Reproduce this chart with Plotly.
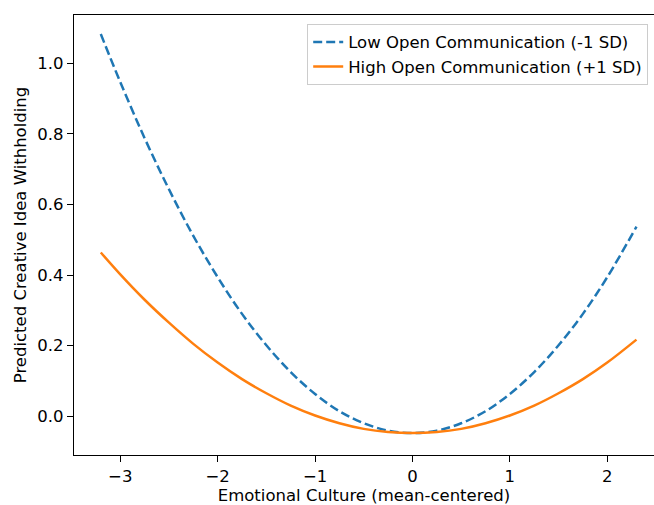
import plotly.graph_objects as go

# Emotional culture (mean-centered) sample points
x_vals = [-3.2, -3.0, -2.75, -2.5, -2.25, -2.0, -1.75, -1.5, -1.25, -1.0, -0.75, -0.5, -0.25,
          0.0, 0.25, 0.5, 0.75, 1.0, 1.25, 1.5, 1.75, 2.0, 2.3]
low_oc = [1.083, 0.947, 0.788, 0.643, 0.511, 0.394, 0.290, 0.201, 0.125, 0.063, 0.014, -0.020, -0.041,
          -0.048, -0.041, -0.020, 0.014, 0.063, 0.125, 0.201, 0.290, 0.394, 0.537]
high_oc = [0.464, 0.402, 0.330, 0.265, 0.205, 0.152, 0.105, 0.065, 0.030, 0.002, -0.020, -0.036, -0.045,
           -0.048, -0.045, -0.036, -0.020, 0.002, 0.030, 0.065, 0.105, 0.152, 0.217]

x_ticks = [-3, -2, -1, 0, 1, 2]
y_ticks = [0.0, 0.2, 0.4, 0.6, 0.8, 1.0]

FONT = "DejaVu Sans"
FS = 16.5

fig = go.Figure()
fig.add_trace(go.Scatter(x=x_vals, y=low_oc, mode="lines", name="Low Open Communication (-1 SD)",
                         line=dict(color="#1f77b4", width=2.5, dash="9px,4px", shape="spline")))
fig.add_trace(go.Scatter(x=x_vals, y=high_oc, mode="lines", name="High Open Communication (+1 SD)",
                         line=dict(color="#ff7f0e", width=2.5, shape="spline")))

axis_common = dict(showgrid=False, zeroline=False, showline=True, linecolor="black", linewidth=1.3,
                   mirror=True, ticks="outside", ticklen=6, tickcolor="black", tickwidth=1.3,
                   tickfont=dict(family=FONT, size=FS, color="black"))

fig.update_layout(
    width=654, height=505,
    margin=dict(l=74, r=0, t=15, b=49.5),
    paper_bgcolor="white", plot_bgcolor="white",
    font=dict(family=FONT, size=FS, color="black"),
    showlegend=True,
    legend=dict(x=0.99, y=0.98, xanchor="right", yanchor="top",
                bgcolor="rgba(255,255,255,0.8)", bordercolor="#cccccc", borderwidth=1,
                font=dict(family=FONT, size=FS, color="black"), itemwidth=30, tracegroupgap=0),
    xaxis=dict(range=[-3.475, 2.48], tickmode="array", tickvals=x_ticks,
               ticktext=["\u22123", "\u22122", "\u22121", "0", "1", "2"],
               title=dict(text="Emotional Culture (mean-centered)", font=dict(family=FONT, size=FS), standoff=4),
               **axis_common),
    yaxis=dict(range=[-0.110, 1.137], tickmode="array", tickvals=y_ticks,
               ticktext=["0.0", "0.2", "0.4", "0.6", "0.8", "1.0"],
               title=dict(text="Predicted Creative Idea Withholding", font=dict(family=FONT, size=FS), standoff=6),
               **axis_common),
)

fig.write_html("out.html")
